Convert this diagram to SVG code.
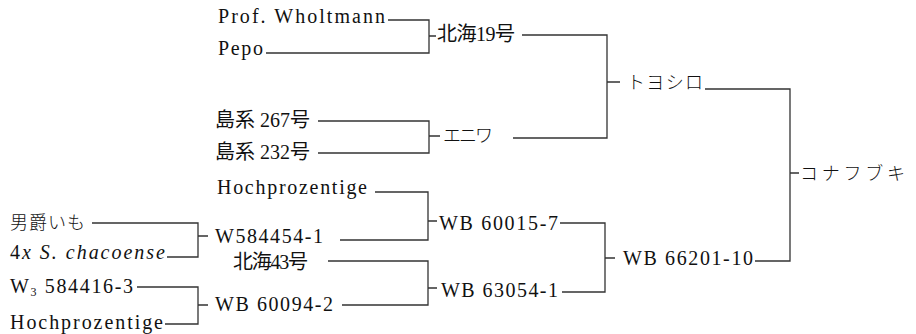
<svg xmlns="http://www.w3.org/2000/svg" width="916" height="334" viewBox="0 0 916 334">
<style>
  text { font-family: "Liberation Serif", "DejaVu Serif", "Noto Sans CJK JP", serif; font-size: 20px; fill: #111; }
  .jp { font-family: "Noto Sans CJK JP", sans-serif; font-size: 18px; font-weight: 300; }
  .it { font-style: italic; }
  .c { fill: none; stroke: #333; stroke-width: 1.3; }
</style>
<rect width="916" height="334" fill="#fff"/>
<g id="connectors">
  <path class="c" d="M388,20H429V53H266M429,36H436"/>
  <path class="c" d="M522,35H607V138H513M607,82H620"/>
  <path class="c" d="M318,121H429V153H318M429,136H440"/>
  <path class="c" d="M705,89H790V261H755M790,173H799"/>
  <path class="c" d="M92,223H198V257H167M198,236H208"/>
  <path class="c" d="M137,287H198V324H165M198,305H208"/>
  <path class="c" d="M375,192H428V240H340M428,221H437"/>
  <path class="c" d="M328,261H428V305H342M428,288H437"/>
  <path class="c" d="M560,223H605V292H562M605,258H615"/>
</g>
<g id="n-prof"><text x="218" y="23" textLength="167" lengthAdjust="spacing">Prof. Wholtmann</text></g>
<g id="n-pepo"><text x="218" y="55" textLength="45" lengthAdjust="spacing">Pepo</text></g>
<g id="n-hokkai19"><text x="437" y="41" textLength="78" lengthAdjust="spacing">北海19号</text></g>
<g id="n-shima267"><text x="215" y="127" textLength="95" lengthAdjust="spacing">島系 267号</text></g>
<g id="n-shima232"><text x="215" y="159" textLength="95" lengthAdjust="spacing">島系 232号</text></g>
<g id="n-eniwa"><text class="jp" x="443" y="142" textLength="50" lengthAdjust="spacing">エニワ</text></g>
<g id="n-toyoshiro"><text class="jp" x="627" y="89" textLength="76" lengthAdjust="spacing">トヨシロ</text></g>
<g id="n-konafubuki"><text class="jp" x="800" y="180" textLength="105" lengthAdjust="spacing">コナフブキ</text></g>
<g id="n-hoch1"><text x="217" y="194" textLength="150" lengthAdjust="spacing">Hochprozentige</text></g>
<g id="n-danshaku"><text class="jp" x="10" y="229" textLength="75" lengthAdjust="spacing">男爵いも</text></g>
<g id="n-chacoense"><text x="10" y="259" textLength="155" lengthAdjust="spacing">4<tspan class="it">x  S. chacoense</tspan></text></g>
<g id="n-w584454"><text x="215" y="243" textLength="108" lengthAdjust="spacing">W584454-1</text></g>
<g id="n-hokkai43"><text x="233" y="269" textLength="75" lengthAdjust="spacing">北海43号</text></g>
<g id="n-w3"><text x="10" y="293" textLength="123" lengthAdjust="spacing">W<tspan font-size="12" dy="3">3</tspan><tspan dy="-3"> 584416-3</tspan></text></g>
<g id="n-hoch2"><text x="10" y="329" textLength="153" lengthAdjust="spacing">Hochprozentige</text></g>
<g id="n-wb60094"><text x="215" y="311" textLength="118" lengthAdjust="spacing">WB 60094-2</text></g>
<g id="n-wb60015"><text x="439" y="230" textLength="119" lengthAdjust="spacing">WB 60015-7</text></g>
<g id="n-wb63054"><text x="441" y="297" textLength="117" lengthAdjust="spacing">WB 63054-1</text></g>
<g id="n-wb66201"><text x="623" y="265" textLength="130" lengthAdjust="spacing">WB 66201-10</text></g>
</svg>
